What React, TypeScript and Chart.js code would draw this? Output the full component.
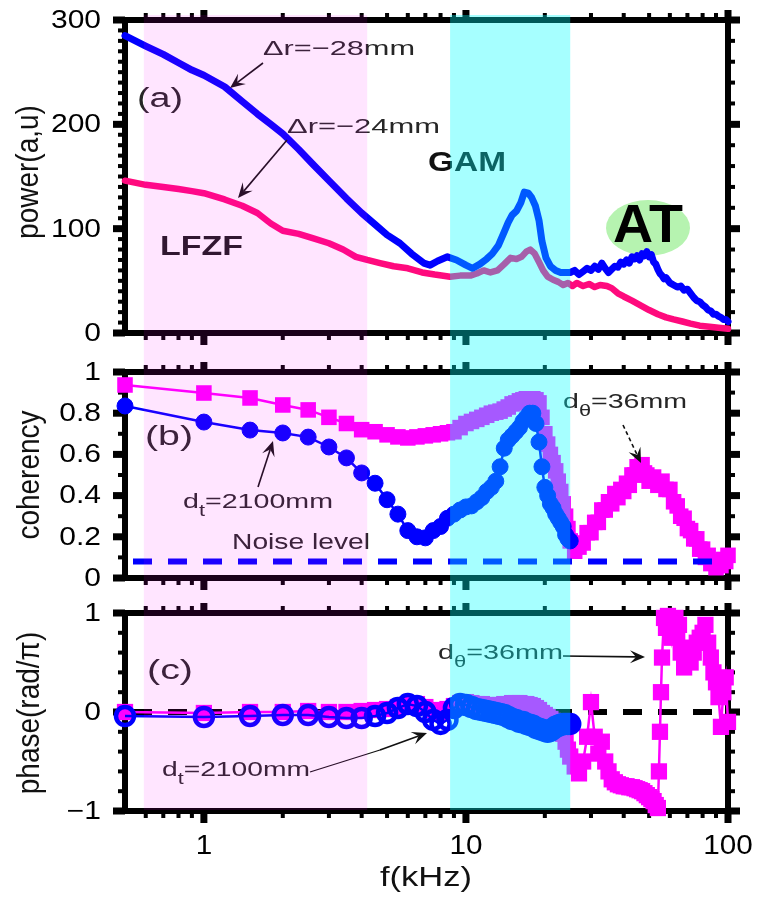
import React, { useEffect, useRef } from "react";
import { Chart, registerables } from "chart.js";
Chart.register(...registerables);

const FONT = '"Liberation Sans", Arial, Helvetica, sans-serif';

// ---------- axis / categories ----------
const X_MIN = 0.5;
const X_MAX = 100;
const xMajor = [1, 10, 100];
const xMajorLabels = ["1", "10", "100"];
const xMinor = [0.6, 0.7, 0.8, 0.9, 2, 3, 4, 5, 6, 7, 8, 9, 20, 30, 40, 50, 60, 70, 80, 90];
const lowBand = [0.59, 4.2]; // LFZF shaded range (kHz)
const gamBand = [8.7, 25]; // GAM shaded range (kHz)

const powerTicks = [0, 100, 200, 300];
const powerTickLabels = ["0", "100", "200", "300"];
const cohTicks = [0, 0.2, 0.4, 0.6, 0.8, 1];
const cohTickLabels = ["0", "0.2", "0.4", "0.6", "0.8", "1"];
const phaseTicks = [-1, 0, 1];
const phaseTickLabels = ["\u22121", "0", "1"];

// ---------- panel (a): power spectra ----------
const freqA_blue = [0.5, 0.6, 0.7, 0.8, 0.9, 1, 1.2, 1.4, 1.6, 1.8, 2, 2.3, 2.6, 3, 3.5, 4, 4.5, 5, 5.6, 6.2,
  6.9, 7.3, 7.8, 8.5, 9.2, 10, 10.6, 11.3, 12, 12.6, 13.3, 14, 14.5, 15, 15.6, 16.2, 16.7, 17.3, 17.8, 18.4,
  19, 19.5, 20.2, 21, 22, 23, 24,
  25, 26, 27, 28, 29, 30, 31, 32, 33, 34, 35, 36, 37, 38, 39, 40, 41, 42, 43, 44, 45, 46, 47, 48, 49, 50,
  51, 52, 53, 54, 55, 56, 57, 58, 60, 62, 64, 66, 68, 70, 72, 74, 76, 78, 80, 82, 84, 86, 88, 90, 92, 94, 96, 98, 100];
const powerA_blue = [285, 275, 267, 259, 252, 247, 236, 222, 210, 200, 191, 176, 162, 146, 129, 115, 104, 94, 86, 76,
  67, 65, 69, 73, 70, 65, 62, 66, 71, 76, 84, 97, 106, 113, 117, 125, 135, 134, 130, 122,
  108, 88, 72, 64, 60, 58, 58,
  58, 60, 56, 59, 62, 60, 64, 61, 67, 62, 58, 61, 64, 63, 68, 66, 70, 67, 73, 71, 74, 70, 76, 74, 78, 73,
  75, 68, 66, 61, 57, 55, 52, 53, 48, 46, 44, 45, 41, 42, 38, 34, 31, 30, 27, 25, 22, 21, 18, 18, 16, 15, 13, 13, 11];

const freqA_pink = [0.5, 0.6, 0.7, 0.8, 0.9, 1, 1.2, 1.4, 1.6, 1.8, 2, 2.3, 2.6, 3, 3.4, 3.8, 4.2, 4.7, 5.3, 6,
  6.8, 7.6, 8.7, 9.5, 10.4, 11, 11.7, 12.4, 13.2, 14, 14.8, 15.6, 16.3, 17, 17.6, 18.3, 19, 19.7, 20.5, 21.5,
  22.5, 23.5, 24.5, 25.5, 26.5, 28, 29.5, 31, 32.5, 34.5, 36, 38, 40, 43, 46, 50, 54, 58, 62, 67,
  72, 78, 85, 92, 100];
const powerA_pink = [146, 142, 140, 138, 136, 134, 128, 122, 115, 105, 98, 95, 91, 86, 80, 73, 70, 67, 64, 62,
  58, 56, 54, 55, 55, 57, 60, 58, 60, 66, 72, 71, 73, 78, 80, 76, 68, 60, 54, 51,
  49, 46, 48, 45, 48, 45, 47, 44, 46, 45, 43, 38, 35, 31, 27, 22, 18, 15, 13, 11,
  9, 7, 6, 5, 4];

// ---------- panel (b): coherency ----------
const freqCirc = [0.5, 1, 1.5, 2, 2.5, 3, 3.5, 4, 4.5, 5, 5.5, 6, 6.5, 7, 7.5, 8, 8.5, 9, 9.5, 10,
  10.5, 11, 11.5, 12, 12.5, 13, 13.5, 14, 14.5, 15, 15.5, 16, 16.5, 17, 17.5, 18, 18.5, 19, 19.5, 20,
  20.5, 21, 21.5, 22, 22.5, 23, 23.5, 24, 24.5, 25];
const cohB_circ = [0.835, 0.757, 0.718, 0.704, 0.684, 0.636, 0.583, 0.51, 0.46, 0.38,
  0.31, 0.23, 0.2, 0.195, 0.23, 0.25, 0.29, 0.31, 0.33, 0.345,
  0.35, 0.37, 0.39, 0.42, 0.44, 0.47, 0.54, 0.63, 0.67, 0.69,
  0.71, 0.73, 0.76, 0.78, 0.8, 0.8, 0.75, 0.66, 0.54, 0.44,
  0.4, 0.36, 0.34, 0.31, 0.29, 0.27, 0.25, 0.21, 0.19, 0.18];

const freqB_sq = [0.5, 1, 1.5, 2, 2.5, 3, 3.5, 4, 4.5, 5, 5.5, 6, 6.5, 7, 7.5, 8, 8.5, 9, 9.5, 10,
  10.5, 11, 11.5, 12, 12.5, 13, 13.5, 14, 14.5, 15, 15.5, 16, 16.5, 17, 17.5, 18, 18.5, 19, 19.5, 20,
  20.5, 21, 21.5, 22, 22.5, 23, 23.5, 24, 24.5, 25,
  26, 27, 28, 29, 30, 31, 32, 33, 34, 35, 36, 37, 38, 39, 40, 41, 42, 43, 44, 45, 46, 47, 48, 49, 50,
  52, 54, 56, 58, 60, 62, 64, 66, 68, 70, 72, 74, 76, 78, 80, 82, 84, 86, 88, 90, 92, 94, 96, 98, 100];
const cohB_sq = [0.937, 0.898, 0.874, 0.84, 0.816, 0.78, 0.75, 0.72, 0.71, 0.695,
  0.685, 0.68, 0.685, 0.69, 0.695, 0.7, 0.705, 0.71, 0.73, 0.75,
  0.76, 0.77, 0.78, 0.79, 0.8, 0.805, 0.81, 0.82, 0.83, 0.845,
  0.85, 0.86, 0.865, 0.87, 0.87, 0.87, 0.865, 0.85, 0.78, 0.7,
  0.65, 0.6, 0.56, 0.52, 0.47, 0.42, 0.36, 0.3, 0.24, 0.18,
  0.13, 0.15, 0.17, 0.22, 0.22, 0.27, 0.27, 0.33, 0.33, 0.37,
  0.36, 0.41, 0.39, 0.43, 0.42, 0.46, 0.45, 0.5, 0.5, 0.54,
  0.52, 0.55, 0.51, 0.5, 0.47,
  0.49, 0.45, 0.47, 0.43, 0.43, 0.37, 0.35, 0.3, 0.29, 0.24,
  0.23, 0.19, 0.19, 0.14, 0.14, 0.1, 0.11, 0.07, 0.08, 0.05,
  0.07, 0.06, 0.09, 0.08, 0.11];
const noiseLevel = 0.08;

// ---------- panel (c): phase ----------
const phaseC_circ = [-0.04, -0.05, -0.04, -0.03, -0.03, -0.05, -0.06, -0.06, -0.04, -0.01,
  0.04, 0.08, 0.06, 0, -0.08, -0.12, -0.08, 0.04, 0.08, 0.07,
  0.05, 0.03, 0.02, 0.01, 0, -0.01, -0.02, -0.03, -0.05, -0.07,
  -0.08, -0.1, -0.1, -0.12, -0.13, -0.14, -0.16, -0.17, -0.18, -0.19,
  -0.2, -0.19, -0.17, -0.15, -0.14, -0.13, -0.12, -0.12, -0.12, -0.12];

const freqC_sq = [0.5, 1, 1.5, 2, 2.5, 3, 3.5, 4, 4.5, 5, 5.5, 6, 6.5, 7, 7.5, 8, 8.5, 9, 9.5, 10,
  10.5, 11, 11.5, 12, 12.5, 13, 13.5, 14, 14.5, 15, 15.5, 16, 16.5, 17, 17.5, 18, 18.5, 19, 19.5, 20,
  20.5, 21, 21.5, 22, 22.5, 23, 23.5, 24, 24.5, 25,
  26, 27, 28, 29, 30, 31, 32, 33, 34, 35, 36, 37, 38, 39, 40, 41, 42, 43, 44, 45,
  46, 47, 48, 49, 50, 51, 52, 53, 54,
  54.5, 55, 55.5, 56, 57, 58, 59, 60, 61, 62, 63, 64, 65, 66,
  68, 70, 72, 74, 76, 78, 80, 82, 84, 86, 88, 90, 92, 94, 96, 98, 100];
const phaseC_sq = [0, -0.01, 0, 0, 0.01, 0, 0, 0.01, 0.02, 0.03,
  0.05, 0.08, 0.08, 0.05, 0.02, 0, 0.03, 0.06, 0.09, 0.1,
  0.09, 0.08, 0.08, 0.07, 0.07, 0.07, 0.07, 0.08, 0.08, 0.09,
  0.09, 0.09, 0.08, 0.08, 0.07, 0.06, 0.04, 0.02, -0.01, -0.03,
  -0.05, -0.07, -0.09, -0.11, -0.13, -0.16, -0.22, -0.3, -0.38, -0.45,
  -0.55, -0.62, -0.5, -0.25, 0.1, -0.25, -0.42, -0.3, -0.5, -0.6, -0.68, -0.71, -0.73, -0.74, -0.75, -0.75, -0.76, -0.76, -0.77, -0.78,
  -0.79, -0.8, -0.82, -0.84, -0.86, -0.88, -0.9, -0.94, -0.97,
  -0.6, -0.2, 0.2, 0.55, 0.95, 0.85, 0.97, 0.9, 0.75, 0.92, 0.95, 0.8, 0.88, 0.6,
  0.45, 0.65, 0.5, 0.6, 0.7, 0.75, 0.8, 0.88, 0.7, 0.55, 0.4, 0.3, 0.15, -0.15, 0.2, 0.35, -0.1];
const zeroLevel = 0;

// ---------- colours ----------
const BLUE = "#0000ff";
const PINK = "#ff0a7d";
const MAGENTA = "#ff00ff";

const pts = (xs: number[], ys: number[]) => xs.map((x, i) => ({ x, y: ys[i] }));

type Seg = { t: string; sub?: boolean };
interface TextOpts { size: number; width?: number; sx?: number; align?: "left" | "center" | "right"; bold?: boolean; color?: string }

function drawRich(ctx: CanvasRenderingContext2D, segs: Seg[], x: number, y: number, o: TextOpts) {
  const w8 = o.bold ? "bold " : "";
  const mainFont = `${w8}${o.size}px ${FONT}`;
  const subFont = `${w8}${Math.round(o.size * 0.78)}px ${FONT}`;
  let natural = 0;
  const ws = segs.map((s) => {
    ctx.font = s.sub ? subFont : mainFont;
    const w = ctx.measureText(s.t).width;
    natural += w;
    return w;
  });
  const sx = o.width ? o.width / natural : o.sx ?? 1;
  const total = natural * sx;
  const align = o.align ?? "left";
  const x0 = align === "left" ? x : align === "center" ? x - total / 2 : x - total;
  ctx.save();
  ctx.translate(x0, y);
  ctx.scale(sx, 1);
  ctx.fillStyle = o.color ?? "#222";
  ctx.textBaseline = "middle";
  ctx.textAlign = "left";
  let cx = 0;
  segs.forEach((s, i) => {
    ctx.font = s.sub ? subFont : mainFont;
    ctx.fillText(s.t, cx, s.sub ? o.size * 0.45 : 0);
    cx += ws[i];
  });
  ctx.restore();
}

function drawRotated(ctx: CanvasRenderingContext2D, text: string, cx: number, cy: number, size: number) {
  ctx.save();
  ctx.translate(cx, cy);
  ctx.scale(1.15, 1);
  ctx.rotate(-Math.PI / 2);
  ctx.font = `${size}px ${FONT}`;
  ctx.fillStyle = "#111";
  ctx.textAlign = "center";
  ctx.textBaseline = "middle";
  ctx.fillText(text, 0, 0);
  ctx.restore();
}

function drawArrow(ctx: CanvasRenderingContext2D, x1: number, y1: number, x2: number, y2: number, dashed = false) {
  const a = Math.atan2(y2 - y1, x2 - x1);
  const L = 15;
  const W = 6.5;
  const ux = Math.cos(a), uy = Math.sin(a);
  const px = -uy, py = ux;
  ctx.save();
  ctx.strokeStyle = "#111";
  ctx.fillStyle = "#111";
  ctx.lineWidth = 1.6;
  if (dashed) ctx.setLineDash([4, 3]);
  ctx.beginPath();
  ctx.moveTo(x1, y1);
  ctx.lineTo(x2 - ux * L * 0.6, y2 - uy * L * 0.6);
  ctx.stroke();
  ctx.setLineDash([]);
  const bx = x2 - ux * L, by = y2 - uy * L;
  const nx = x2 - ux * L * 0.6, ny = y2 - uy * L * 0.6;
  ctx.beginPath();
  ctx.moveTo(x2, y2);
  ctx.lineTo(bx + px * W, by + py * W);
  ctx.lineTo(nx, ny);
  ctx.lineTo(bx - px * W, by - py * W);
  ctx.closePath();
  ctx.fill();
  ctx.restore();
}

interface PanelCfg {
  top: number;
  height: number;
  padTop: number;
  padBottom: number;
  yMin: number;
  yMax: number;
  yTicks: number[];
  yLabels: string[];
  minorLeft: number;
  minorRight: number;
  bandTop: number;
  bandBottom: number;
  title: string;
  titleX: number;
  titleY: number;
  datasets: any[];
  under?: (ctx: CanvasRenderingContext2D) => void;
  over?: (ctx: CanvasRenderingContext2D, chart: any) => void;
}

const ANNOT = "#262626";

const PANELS: PanelCfg[] = [
  {
    top: 0, height: 352, padTop: 20, padBottom: 19,
    yMin: 0, yMax: 300, yTicks: powerTicks, yLabels: powerTickLabels,
    minorLeft: 10, minorRight: 20, bandTop: 15, bandBottom: 352,
    title: "power(a,u)", titleX: 29, titleY: 172,
    datasets: [
      { data: pts(freqA_blue, powerA_blue), borderColor: BLUE, borderWidth: 7, pointRadius: 0, showLine: true, clip: false, tension: 0, borderJoinStyle: "round", borderCapStyle: "round" },
      { data: pts(freqA_pink, powerA_pink), borderColor: PINK, borderWidth: 6.5, pointRadius: 0, showLine: true, clip: false, tension: 0, borderJoinStyle: "round", borderCapStyle: "round" },
    ],
    under: (ctx) => {
      ctx.save();
      ctx.fillStyle = "#b6f3b0";
      ctx.beginPath();
      ctx.ellipse(648, 228, 42, 28, 0, 0, Math.PI * 2);
      ctx.fill();
      ctx.restore();
      drawRich(ctx, [{ t: "AT" }], 648, 227, { size: 53, width: 70, align: "center", bold: true, color: "#000" });
      drawRich(ctx, [{ t: "GAM" }], 428, 163, { size: 28, width: 78, bold: true, color: "#111" });
    },
    over: (ctx) => {
      drawRich(ctx, [{ t: "(a)" }], 160, 100, { size: 27, width: 46, align: "center", color: ANNOT });
      drawRich(ctx, [{ t: "LFZF" }], 160, 247, { size: 28, width: 83, bold: true, color: "#1a1a1a" });
      drawRich(ctx, [{ t: "\u0394r=\u221228mm" }], 263, 49, { size: 21, width: 152, color: ANNOT });
      drawRich(ctx, [{ t: "\u0394r=\u221224mm" }], 287, 127, { size: 21, width: 153, color: ANNOT });
      drawArrow(ctx, 263, 63, 230, 88);
      drawArrow(ctx, 287, 140, 238, 198);
    },
  },
  {
    top: 352, height: 243, padTop: 20, padBottom: 17,
    yMin: 0, yMax: 1, yTicks: cohTicks, yLabels: cohTickLabels,
    minorLeft: 0.1, minorRight: 0.1, bandTop: 0, bandBottom: 243,
    title: "coherency", titleX: 30, titleY: 475,
    datasets: [
      { data: [{ x: X_MIN, y: noiseLevel }, { x: X_MAX, y: noiseLevel }], borderColor: BLUE, borderWidth: 6, borderDash: [19, 16], borderDashOffset: 27, pointRadius: 0, showLine: true, clip: false, borderCapStyle: "butt" },
      { data: pts(freqCirc, cohB_circ), borderColor: BLUE, borderWidth: 2.5, pointStyle: "circle", pointRadius: 8, pointBackgroundColor: BLUE, pointBorderColor: BLUE, pointBorderWidth: 1, showLine: true, clip: false, tension: 0 },
      { data: pts(freqB_sq, cohB_sq), borderColor: MAGENTA, borderWidth: 2.5, pointStyle: "rect", pointRadius: 11, pointBackgroundColor: MAGENTA, pointBorderColor: MAGENTA, pointBorderWidth: 0, showLine: true, clip: false, tension: 0 },
    ],
    over: (ctx) => {
      drawRich(ctx, [{ t: "(b)" }], 169, 438, { size: 27, width: 48, align: "center", color: ANNOT });
      drawRich(ctx, [{ t: "d" }, { t: "t", sub: true }, { t: "=2100mm" }], 183, 502, { size: 21, width: 150, color: ANNOT });
      drawArrow(ctx, 258, 487, 273, 441);
      drawRich(ctx, [{ t: "Noise level" }], 232, 543, { size: 22, width: 138, color: ANNOT });
      drawRich(ctx, [{ t: "d" }, { t: "\u03b8", sub: true }, { t: "=36mm" }], 563, 402, { size: 21, width: 124, color: ANNOT });
      drawArrow(ctx, 623, 425, 641, 463, true);
    },
  },
  {
    top: 595, height: 304, padTop: 18, padBottom: 88,
    yMin: -1, yMax: 1, yTicks: phaseTicks, yLabels: phaseTickLabels,
    minorLeft: 0.2, minorRight: 0.2, bandTop: 0, bandBottom: 215,
    title: "phase(rad/\u03c0)", titleX: 30, titleY: 713,
    datasets: [
      { data: pts(freqCirc, phaseC_circ), borderColor: BLUE, borderWidth: 2.5, pointStyle: "circle", pointRadius: 9, pointBackgroundColor: "rgba(0,0,0,0)", pointBorderColor: BLUE, pointBorderWidth: 4.5, showLine: true, clip: false, tension: 0 },
      { data: pts(freqC_sq, phaseC_sq), borderColor: MAGENTA, borderWidth: 2.5, pointStyle: "rect", pointRadius: 11.5, pointBackgroundColor: MAGENTA, pointBorderColor: MAGENTA, pointBorderWidth: 0, showLine: true, clip: false, tension: 0 },
      { data: [{ x: X_MIN, y: zeroLevel }, { x: X_MAX, y: zeroLevel }], borderColor: "#000", borderWidth: 6, borderDash: [19, 16], borderDashOffset: 27, pointRadius: 0, showLine: true, clip: false, borderCapStyle: "butt" },
    ],
    over: (ctx, chart) => {
      drawRich(ctx, [{ t: "(c)" }], 170, 672, { size: 27, width: 46, align: "center", color: ANNOT });
      drawRich(ctx, [{ t: "d" }, { t: "t", sub: true }, { t: "=2100mm" }], 162, 770, { size: 21, width: 148, color: ANNOT });
      ctx.save();
      ctx.strokeStyle = "#111";
      ctx.lineWidth = 1.3;
      ctx.beginPath();
      ctx.moveTo(310, 772);
      ctx.lineTo(380, 750);
      ctx.stroke();
      ctx.restore();
      drawArrow(ctx, 380, 750, 427, 733);
      drawRich(ctx, [{ t: "d" }, { t: "\u03b8", sub: true }, { t: "=36mm" }], 438, 653, { size: 21, width: 125, color: ANNOT });
      drawArrow(ctx, 563, 656, 645, 657);
      const xs = chart.scales.x;
      xMajor.forEach((v, i) => {
        drawRich(ctx, [{ t: xMajorLabels[i] }], xs.getPixelForValue(v), 847, { size: 27, sx: 1.1, align: "center", color: "#000" });
      });
      drawRich(ctx, [{ t: "f(kHz)" }], 426, 879, { size: 27, width: 92, align: "center", color: "#111" });
    },
  },
];

function makeChart(canvas: HTMLCanvasElement, p: PanelCfg) {
  const deco = {
    id: "deco",
    beforeDatasetsDraw(chart: any) {
      const ctx: CanvasRenderingContext2D = chart.ctx;
      const { left, right, top, bottom } = chart.chartArea;
      const xs = chart.scales.x;
      const ys = chart.scales.y;
      ctx.save();
      ctx.strokeStyle = "#000";
      ctx.lineWidth = 6;
      ctx.strokeRect(left, top, right - left, bottom - top);
      ctx.fillStyle = "#000";
      for (const v of xMinor) {
        const px = xs.getPixelForValue(v);
        ctx.fillRect(px - 2, top - 7, 4, 7);
        ctx.fillRect(px - 2, bottom, 4, 7);
      }
      for (const v of xMajor) {
        const px = xs.getPixelForValue(v);
        ctx.fillRect(px - 3.5, top - 10, 7, 10);
        ctx.fillRect(px - 3.5, bottom, 7, 12);
      }
      const isMajor = (v: number) => p.yTicks.some((t) => Math.abs(t - v) < 1e-6);
      const steps = (step: number) => {
        const out: number[] = [];
        const n = Math.round((p.yMax - p.yMin) / step);
        for (let i = 0; i <= n; i++) out.push(p.yMin + i * step);
        return out.filter((v) => !isMajor(v));
      };
      for (const v of steps(p.minorLeft)) {
        const py = ys.getPixelForValue(v);
        ctx.fillRect(left - 7, py - 2, 7, 4);
      }
      for (const v of steps(p.minorRight)) {
        const py = ys.getPixelForValue(v);
        ctx.fillRect(right, py - 2, 7, 4);
      }
      for (const v of p.yTicks) {
        const py = ys.getPixelForValue(v);
        ctx.fillRect(left - 12, py - 3.5, 12, 7);
        ctx.fillRect(right, py - 3.5, 12, 7);
      }
      ctx.restore();
      if (p.under) {
        ctx.save();
        ctx.translate(0, -p.top);
        p.under(ctx);
        ctx.restore();
      }
    },
    afterDatasetsDraw(chart: any) {
      const ctx: CanvasRenderingContext2D = chart.ctx;
      const ys = chart.scales.y;
      p.yTicks.forEach((v, i) => {
        drawRich(ctx, [{ t: p.yLabels[i] }], 101, ys.getPixelForValue(v) + 1, { size: 25, sx: 1.2, align: "right", color: "#000" });
      });
      ctx.save();
      ctx.translate(0, -p.top);
      drawRotated(ctx, p.title, p.titleX, p.titleY, 28);
      if (p.over) p.over(ctx, chart);
      ctx.restore();
    },
    afterDraw(chart: any) {
      const ctx: CanvasRenderingContext2D = chart.ctx;
      const xs = chart.scales.x;
      ctx.save();
      const a1 = xs.getPixelForValue(lowBand[0]);
      const a2 = xs.getPixelForValue(lowBand[1]);
      ctx.fillStyle = "rgba(255,0,255,0.1)";
      ctx.fillRect(a1, p.bandTop, a2 - a1, p.bandBottom - p.bandTop);
      const b1 = xs.getPixelForValue(gamBand[0]);
      const b2 = xs.getPixelForValue(gamBand[1]);
      ctx.fillStyle = "rgba(0,255,255,0.35)";
      ctx.fillRect(b1, p.bandTop, b2 - b1, p.bandBottom - p.bandTop);
      ctx.restore();
    },
  };

  return new Chart(canvas, {
    type: "scatter",
    data: { datasets: p.datasets },
    options: {
      responsive: false,
      animation: false,
      devicePixelRatio: 1,
      events: [],
      layout: { padding: { left: 125, right: 757 - 728, top: p.padTop, bottom: p.padBottom } },
      plugins: { legend: { display: false }, tooltip: { enabled: false } },
      scales: {
        x: { type: "logarithmic", min: X_MIN, max: X_MAX, display: false },
        y: { type: "linear", min: p.yMin, max: p.yMax, display: false },
      },
    } as any,
    plugins: [deco],
  });
}

export default function App() {
  const refs = useRef<(HTMLCanvasElement | null)[]>([]);
  useEffect(() => {
    const charts = PANELS.map((p, i) => makeChart(refs.current[i] as HTMLCanvasElement, p));
    return () => charts.forEach((c) => c.destroy());
  }, []);
  return (
    <div style={{ position: "absolute", left: 0, top: 0, width: 757, height: 899, background: "#fff", overflow: "hidden" }}>
      {PANELS.map((p, i) => (
        <canvas
          key={i}
          ref={(el) => {
            refs.current[i] = el;
          }}
          width={757}
          height={p.height}
          style={{ position: "absolute", left: 0, top: p.top, width: 757, height: p.height }}
        />
      ))}
    </div>
  );
}
